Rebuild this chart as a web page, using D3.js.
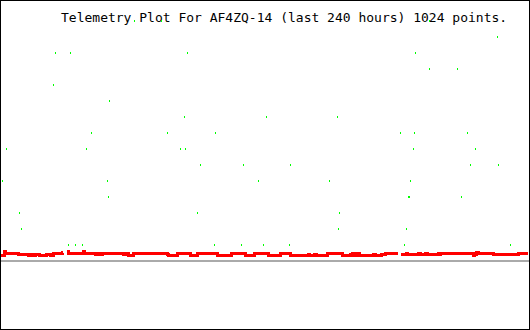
<!DOCTYPE html>
<html>
<head>
<meta charset="utf-8">
<script src="https://cdn.jsdelivr.net/npm/d3@7"></script>
<style>
  html, body { margin: 0; padding: 0; background: #fff; }
  svg { display: block; }
</style>
</head>
<body>
<svg id="chart" width="530" height="330"></svg>
<script>
// ---- Data (hours since start of 240-hour window; telemetry value units) ----
const titleText = "Telemetry Plot For AF4ZQ-14 (last 240 hours) 1024 points.";
const hoursSpan = [0, 240];
const valueSpan = [0, 15];

// Green telemetry channel: [hour, value]
const greenHours = [
  60.9, 73.2, 195.0,
  225.9,
  25.0, 31.8, 85.0, 188.6,
  195.0, 207.7,
  24.1,
  49.5,
  83.6, 120.9, 153.2,
  41.4, 75.9, 97.7, 181.8, 188.2, 212.3,
  2.7, 39.1, 81.8, 84.1, 187.7, 215.9,
  90.9, 110.5, 131.8, 213.6, 226.4,
  0.9, 48.6, 117.3, 149.5, 186.4,
  49.1, 185.5, 185.9, 209.5,
  8.6, 89.5, 154.1,
  9.5, 153.6, 184.5,
  30.9, 34.1, 37.3, 97.3, 109.5, 119.5, 131.4, 183.6, 231.8
];
const greenValues = [
  15, 15, 15,
  14,
  13, 13, 13, 13,
  12, 12,
  11,
  10,
  9, 9, 9,
  8, 8, 8, 8, 8, 8,
  7, 7, 7, 7, 7, 7,
  6, 6, 6, 6, 6,
  5, 5, 5, 5, 5,
  4, 4, 4, 4,
  3, 3, 3,
  2, 2, 2,
  1, 1, 1, 1, 1, 1, 1, 1, 1
];

// Red telemetry channel (step series): hour where a level starts, and the level (null = no data)
const redHours = [
  0.0, 1.8, 2.3, 8.2, 12.7, 13.2, 14.5, 15.9, 17.7, 20.9, 22.7, 24.1, 28.2, 28.6,
  30.5, 30.9, 37.7, 38.2, 43.2, 44.1, 45.5, 46.4, 55.9, 56.8, 58.2, 60.5, 75.9, 76.4,
  80.5, 86.4, 89.5, 98.6, 105.0, 111.4, 115.5, 121.8, 127.3, 131.8, 140.0, 140.5,
  142.7, 143.6, 148.6, 155.5, 159.1, 160.0, 160.5, 161.4, 161.8, 162.3, 163.2, 169.5,
  170.5, 173.2, 175.0, 180.9, 182.3, 184.5, 185.0, 190.0, 190.9, 193.2, 194.1, 199.1,
  199.5, 200.0, 215.0, 215.5, 216.4, 217.3, 224.1, 235.5, 240.0
];
const redValues = [
  0.25, 0.5, 0.375, 0.3125, 0.25, 0.3125, 0.25, 0.3125, 0.25, 0.3125, 0.25, 0.375, 0.4375, null,
  0.5, 0.375, 0.5, 0.375, 0.3125, 0.375, 0.3125, 0.375, 0.3125, 0.375, 0.25, 0.375, 0.3125, 0.25,
  0.375, 0.25, 0.375, 0.25, 0.375, 0.25, 0.375, 0.25, 0.375, 0.25, 0.3125, 0.25,
  0.3125, 0.25, 0.375, 0.25, 0.3125, 0.375, 0.25, 0.375, 0.25, 0.375, 0.25, 0.3125,
  0.25, 0.3125, 0.375, null, 0.3125, 0.375, 0.3125, 0.375, 0.3125, 0.375, 0.3125, 0.375,
  0.3125, 0.375, 0.25, 0.3125, 0.4375, 0.375, 0.3125, 0.375, 0.375
];

// ---- Drawing ----
const W = 530, H = 330;
const svg = d3.select("#chart");

const x = d3.scaleLinear().domain(hoursSpan).range([0, 528]);
const y = d3.scaleLinear().domain(valueSpan).range([260, 20]);

svg.append("rect").attr("x", 0).attr("y", 0).attr("width", W).attr("height", H).attr("fill", "#fff");

// baseline (value 0)
svg.append("rect")
  .attr("x", 1).attr("width", 528)
  .attr("y", Math.round(y(0))).attr("height", 2)
  .attr("fill", "#aaaaaa")
  .attr("shape-rendering", "crispEdges");

// title
svg.append("text")
  .attr("x", 61).attr("y", 22)
  .attr("font-family", "'DejaVu Sans Mono', 'Liberation Mono', monospace")
  .attr("font-size", 13)
  .attr("fill", "#000")
  .text(titleText);

// red step line
const redData = redHours.map((h, i) => ({ h, v: redValues[i] }));
const line = d3.line()
  .defined(d => d.v !== null)
  .x(d => Math.round(x(d.h)))
  .y(d => Math.round(y(d.v)) - 0.5)
  .curve(d3.curveStepAfter);
const redDrawn = [];
redData.forEach((d, i) => {
  if (d.v === null && i > 0) redDrawn.push({ h: d.h, v: redData[i - 1].v });
  redDrawn.push(d);
});
svg.append("path")
  .datum(redDrawn)
  .attr("d", line)
  .attr("fill", "none")
  .attr("stroke", "#ff0000")
  .attr("stroke-width", 3)
  .attr("shape-rendering", "crispEdges");

// green points
const greenData = greenHours.map((h, i) => ({ h, v: greenValues[i] }));
svg.append("g").selectAll("rect")
  .data(greenData)
  .join("rect")
  .attr("x", d => Math.round(x(d.h)))
  .attr("y", d => Math.round(y(d.v)))
  .attr("width", 1).attr("height", 2)
  .attr("fill", "#00ff00")
  .attr("shape-rendering", "crispEdges");

// frame
svg.append("rect")
  .attr("x", 0.5).attr("y", 0.5).attr("width", W - 1).attr("height", H - 1)
  .attr("fill", "none").attr("stroke", "#000").attr("stroke-width", 1)
  .attr("shape-rendering", "crispEdges");
</script>
</body>
</html>
